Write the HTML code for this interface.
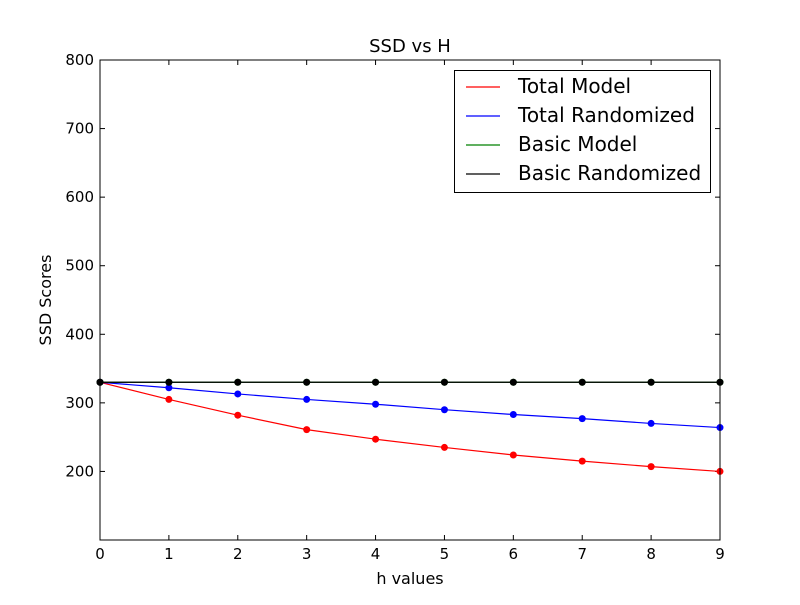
<!DOCTYPE html>
<html><head><meta charset="utf-8"><style>body{margin:0;background:#fff}svg{font-family:"DejaVu Sans","Liberation Sans",sans-serif}</style></head>
<body>
<svg id="chart" width="800" height="600">
<rect width="800" height="600" fill="#fff"/>
<text x="410" y="52" font-size="18" text-anchor="middle">SSD vs H</text>
<g id="plot"></g>
<text x="410" y="584" font-size="16" text-anchor="middle">h values</text>
<text transform="translate(51,300) rotate(-90)" font-size="16" text-anchor="middle">SSD Scores</text>
</svg>
<script>
const categories=[0,1,2,3,4,5,6,7,8,9];
const totalModel=[330,305,282,261,247,235,224,215,207,200];
const totalRandomized=[330,322,313,305,298,290,283,277,270,264];
const basicModel=[330,330,330,330,330,330,330,330,330,330];
const basicRandomized=[330,330,330,330,330,330,330,330,330,330];
const xTicks=[0,1,2,3,4,5,6,7,8,9];
const yTicks=[200,300,400,500,600,700,800];
const L=100,R=720,T=60,B=540,xMin=0,xMax=9,yMin=100,yMax=800;
const xs=v=>L+(v-xMin)/(xMax-xMin)*(R-L);
const ys=v=>B-(v-yMin)/(yMax-yMin)*(B-T);
const NS="http://www.w3.org/2000/svg";
const g=document.getElementById('plot');
function mk(t,a,p){const e=document.createElementNS(NS,t);for(const k in a)e.setAttribute(k,a[k]);(p||g).appendChild(e);return e;}
xTicks.forEach(v=>{
 const x=xs(v);
 mk('line',{x1:x,x2:x,y1:B,y2:B-5,stroke:'#000'});
 mk('line',{x1:x,x2:x,y1:T,y2:T+5,stroke:'#000'});
 const t=mk('text',{x:x,y:B+19,'font-size':15,'text-anchor':'middle'});t.textContent=v;
 
 
});
yTicks.forEach(v=>{
 const y=ys(v);
 mk('line',{x1:L,x2:L+5,y1:y,y2:y,stroke:'#000'});
 mk('line',{x1:R,x2:R-5,y1:y,y2:y,stroke:'#000'});
 const t=mk('text',{x:L-6,y:y+5,'font-size':15,'text-anchor':'end'});t.textContent=v;
 
 
});
const series=[[totalModel,'#ff0000','total-model'],[totalRandomized,'#0000ff','total-randomized'],[basicModel,'#008000','basic-model'],[basicRandomized,'#000000','basic-randomized']];
series.forEach(([d,c,n])=>{
 const pl=mk('polyline',{points:d.map((v,i)=>xs(categories[i])+','+ys(v)).join(' '),fill:'none',stroke:c,'stroke-width':1.2});
 
 
 d.forEach((v,i)=>{const p=mk('circle',{cx:xs(categories[i]),cy:ys(v),r:3.5,fill:c});
  
  });
});
const frame=mk('rect',{x:L,y:T,width:R-L,height:B-T,fill:'none',stroke:'#000'});


const lg=mk('g',{});


mk('rect',{x:454.5,y:70.5,width:256,height:122,fill:'#fff',stroke:'#000'},lg);
['Total Model','Total Randomized','Basic Model','Basic Randomized'].forEach((s,i)=>{
 const y=87+i*29;
 mk('line',{x1:466,x2:500,y1:y,y2:y,stroke:series[i][1],'stroke-width':1.2},lg);
 const t=mk('text',{x:518,y:y+6,'font-size':20},lg);t.textContent=s;
 
 
});
</script>
</body></html>
